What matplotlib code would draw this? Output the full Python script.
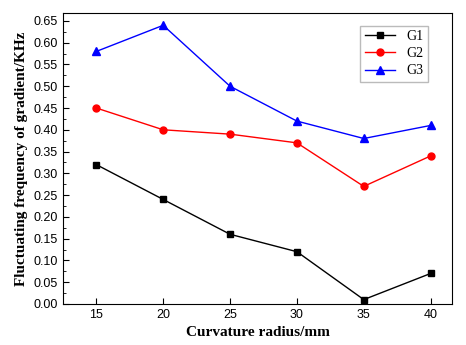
import matplotlib.pyplot as plt
from matplotlib.ticker import MultipleLocator

radius = [15, 20, 25, 30, 35, 40]
g1 = [0.32, 0.24, 0.16, 0.12, 0.01, 0.07]
g2 = [0.45, 0.40, 0.39, 0.37, 0.27, 0.34]
g3 = [0.58, 0.64, 0.50, 0.42, 0.38, 0.41]

fig = plt.figure(figsize=(4.66, 3.45), dpi=100)
ax = fig.add_axes([0.135, 0.119, 0.835, 0.843])

ax.plot(radius, g1, color='black', marker='s', markersize=4.5, lw=1, label='G1')
ax.plot(radius, g2, color='red', marker='o', markersize=5, lw=1, label='G2')
ax.plot(radius, g3, color='blue', marker='^', markersize=5.5, lw=1, label='G3')

ax.set_xlim(12.5, 41.6)
ax.set_ylim(0, 0.668)
ax.xaxis.set_major_locator(MultipleLocator(5))
ax.yaxis.set_major_locator(MultipleLocator(0.05))
ax.yaxis.set_minor_locator(MultipleLocator(0.025))
ax.tick_params(which='both', direction='in', labelsize=9)
ax.tick_params(which='major', length=4)
ax.tick_params(which='minor', length=2)
for lab in ax.get_xticklabels() + ax.get_yticklabels():
    lab.set_family('Liberation Sans')
ax.yaxis.set_major_formatter(plt.FormatStrFormatter('%.2f'))

ax.set_xlabel('Curvature radius/mm', family='Liberation Serif', fontweight='bold', fontsize=11)
ax.set_ylabel('Fluctuating frequency of gradient/KHz', family='Liberation Serif', fontweight='bold', fontsize=11)

leg = ax.legend(loc='upper right', bbox_to_anchor=(0.955, 0.98), prop={'family': 'Liberation Serif', 'size': 10},
                fancybox=False, edgecolor='#aaaaaa', handlelength=2.2, borderpad=0.3, labelspacing=0.3)

fig.savefig('out.png', dpi=100)
